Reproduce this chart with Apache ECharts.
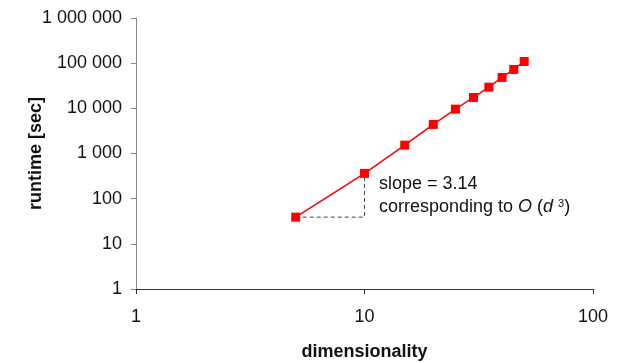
<!DOCTYPE html>
<html>
<head>
<meta charset="utf-8">
<script src="https://cdn.jsdelivr.net/npm/echarts@6/dist/echarts.min.js"></script>
<style>
  html, body { margin: 0; padding: 0; background: #fff; }
  #chart { width: 617px; height: 363px; }
</style>
</head>
<body>
<div id="chart"></div>
<script>
// dimensionality d and measured runtime in seconds
const dims = [5, 10, 15, 20, 25, 30, 35, 40, 45, 50];
const runtimes = [39, 363, 1530, 4400, 9600, 17400, 29400, 48300, 72600, 109000];
const slopeText = 'slope = 3.14';

// dashed helper triangle between the first two points
const helper = [
  [dims[0], runtimes[0]],
  [dims[1], runtimes[0]],
  [dims[1], runtimes[1]]
];

const fmt = v => String(v).replace(/\B(?=(\d{3})+(?!\d))/g, ' ');

const chart = echarts.init(document.getElementById('chart'));
const font = 'Liberation Sans, Arial, sans-serif';

chart.setOption({
  animation: false,
  textStyle: { fontFamily: font },
  grid: { left: 136, right: 24, top: 18, bottom: 74, outerBoundsMode: 'none', containLabel: false },
  xAxis: {
    type: 'log',
    logBase: 10,
    min: 1,
    max: 100,
    name: 'dimensionality',
    nameLocation: 'middle',
    nameGap: 54,
    nameMoveOverlap: false,
    nameTextStyle: { fontSize: 18, fontWeight: 'bold', color: '#111' },
    axisLine: { lineStyle: { color: '#333', width: 1 } },
    axisTick: { show: true, length: 5, lineStyle: { color: '#333' } },
    minorTick: { show: false },
    axisLabel: { fontSize: 18, color: '#111', margin: 19 },
    splitLine: { show: false }
  },
  yAxis: {
    type: 'log',
    logBase: 10,
    min: 1,
    max: 1000000,
    name: 'runtime [sec]',
    nameLocation: 'middle',
    nameGap: 91,
    nameRotate: 90,
    nameMoveOverlap: false,
    nameTextStyle: { fontSize: 18, fontWeight: 'bold', color: '#111' },
    axisLine: { show: true, lineStyle: { color: '#888', width: 1 } },
    axisTick: { show: true, length: 5, lineStyle: { color: '#888' } },
    axisLabel: { fontSize: 18, color: '#111', margin: 14, formatter: fmt },
    splitLine: { show: false }
  },
  series: [
    {
      type: 'line',
      data: helper,
      symbol: 'none',
      silent: true,
      lineStyle: { color: '#444', width: 1, type: [4, 3] },
      z: 1
    },
    {
      type: 'line',
      data: dims.map((d, i) => [d, runtimes[i]]),
      symbol: 'rect',
      symbolSize: 9,
      itemStyle: { color: '#ff0000' },
      lineStyle: { color: '#ff0000', width: 1.5 },
      z: 2
    }
  ],
  graphic: [
    {
      type: 'text',
      left: 379,
      top: 175,
      style: { text: slopeText, font: '18px ' + font, fill: '#111' }
    },
    {
      type: 'text',
      left: 379,
      top: 198,
      style: {
        text: 'corresponding to {i|O} ({i|d} {s|3})',
        font: '18px ' + font,
        fill: '#111',
        rich: {
          i: { fontStyle: 'italic', fontSize: 18, fontFamily: font, color: '#111' },
          s: { fontSize: 11, fontFamily: font, color: '#111', verticalAlign: 'top', padding: [0, 0, 7, 0] }
        }
      }
    }
  ]
});
</script>
</body>
</html>
